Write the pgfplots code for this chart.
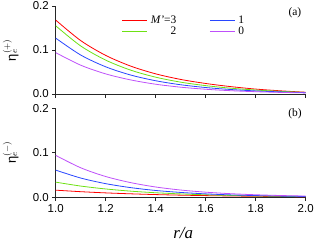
\documentclass[border=0pt]{standalone}
\usepackage{fontspec}
\setmainfont{Liberation Serif}
\newfontfamily\arial{Liberation Sans}
\usepackage{pgfplots}
\pgfplotsset{compat=1.18}
\definecolor{cRed}{RGB}{255,0,0}
\definecolor{cGreen}{RGB}{110,225,20}
\definecolor{cBlue}{RGB}{40,70,255}
\definecolor{cPurple}{RGB}{190,80,250}
\pgfplotsset{
 panel/.style={
  scale only axis, width=250bp,
  xmin=1, xmax=2, ymin=0, ymax=0.2,
  axis x line=bottom, axis y line=left,
  axis line style={-, line width=0.8bp, black!85},
  tick align=outside, tick style={line width=0.7bp, black!85}, major tick length=3.5bp,
  xtick={1,1.2,1.4,1.6,1.8,2}, ytick={0,0.1,0.2},
  /pgf/number format/assume math mode=true,
  tick label style={font=\arial\fontsize{11.5}{13}\selectfont},
  xticklabel style={/pgf/number format/.cd, fixed, fixed zerofill, precision=1},
  yticklabel style={/pgf/number format/.cd, fixed, fixed zerofill, precision=1},
  ylabel style={at={(axis description cs:-0.18,0.5)}, anchor=center, font=\fontsize{13}{15}\selectfont},
  every axis plot/.append style={line width=0.8bp, smooth},
 }
}
\begin{document}
\begin{tikzpicture}
\begin{axis}[panel, at={(0,0)}, anchor=south west, height=88bp,
  xticklabels={},
  ylabel={{\arial η}$_{e}^{(+)}$},
  legend style={draw=none, fill=none, at={(rel axis cs:0.252,0.93)}, anchor=north west,
    font=\fontsize{11.5}{12}\selectfont, row sep=-2.5bp,
    nodes={inner xsep=3bp},
    /tikz/every even column/.append style={column sep=30bp}},
  legend columns=2, transpose legend, legend cell align=right,
  legend image code/.code={\draw[#1, line width=1bp] (0bp,0bp) -- (25bp,0bp);}]
\addplot[cRed] coordinates {(1.0,0.168) (1.1,0.1214) (1.2,0.0877) (1.3,0.0634) (1.4,0.0458) (1.5,0.0331) (1.6,0.0239) (1.7,0.0168) (1.8,0.0112) (1.9,0.0072) (2.0,0.0040)};
\addplot[cGreen] coordinates {(1.0,0.155) (1.1,0.1092) (1.2,0.0770) (1.3,0.0542) (1.4,0.0382) (1.5,0.0269) (1.6,0.0190) (1.7,0.0132) (1.8,0.0090) (1.9,0.0060) (2.0,0.0035)};
\addplot[cBlue] coordinates {(1.0,0.127) (1.1,0.0886) (1.2,0.0618) (1.3,0.0431) (1.4,0.0301) (1.5,0.0210) (1.6,0.0147) (1.7,0.0102) (1.8,0.0070) (1.9,0.0048) (2.0,0.0030)};
\addplot[cPurple] coordinates {(1.0,0.094) (1.1,0.0655) (1.2,0.0457) (1.3,0.0320) (1.4,0.0222) (1.5,0.0155) (1.6,0.0108) (1.7,0.0075) (1.8,0.0052) (1.9,0.0036) (2.0,0.0025)};
\legend{\textit{M'}=3, 2, 1, 0}
\node[font=\fontsize{11.5}{13}\selectfont] at (rel axis cs:0.957,0.924) {(a)};
\end{axis}
\begin{axis}[panel, at={(0,-103.3bp)}, anchor=south west, height=89.2bp,
  ylabel={{\arial η}$_{e}^{(-)}$},
  xlabel={\textit{r/a}},
  xlabel style={at={(axis description cs:0.51,-0.4)}, anchor=center, font=\fontsize{17}{19}\selectfont}]
\addplot[cRed] coordinates {(1.0,0.016) (1.1,0.0126) (1.2,0.0099) (1.3,0.0078) (1.4,0.0061) (1.5,0.0048) (1.6,0.0038) (1.7,0.0030) (1.8,0.0023) (1.9,0.0018) (2.0,0.0014)};
\addplot[cGreen] coordinates {(1.0,0.034) (1.1,0.0252) (1.2,0.0187) (1.3,0.0138) (1.4,0.0102) (1.5,0.0076) (1.6,0.0056) (1.7,0.0042) (1.8,0.0031) (1.9,0.0023) (2.0,0.0017)};
\addplot[cBlue] coordinates {(1.0,0.061) (1.1,0.0432) (1.2,0.0306) (1.3,0.0217) (1.4,0.0153) (1.5,0.0109) (1.6,0.0077) (1.7,0.0054) (1.8,0.0039) (1.9,0.0027) (2.0,0.0019)};
\addplot[cPurple] coordinates {(1.0,0.094) (1.1,0.0662) (1.2,0.0466) (1.3,0.0329) (1.4,0.0231) (1.5,0.0163) (1.6,0.0115) (1.7,0.0081) (1.8,0.0057) (1.9,0.0040) (2.0,0.0028)};
\node[font=\fontsize{11.5}{13}\selectfont] at (rel axis cs:0.957,0.94) {(b)};
\end{axis}
\pgfresetboundingbox
\path[use as bounding box] (-55.7bp,-149bp) rectangle (259.3bp,94bp);
\end{tikzpicture}
\end{document}
